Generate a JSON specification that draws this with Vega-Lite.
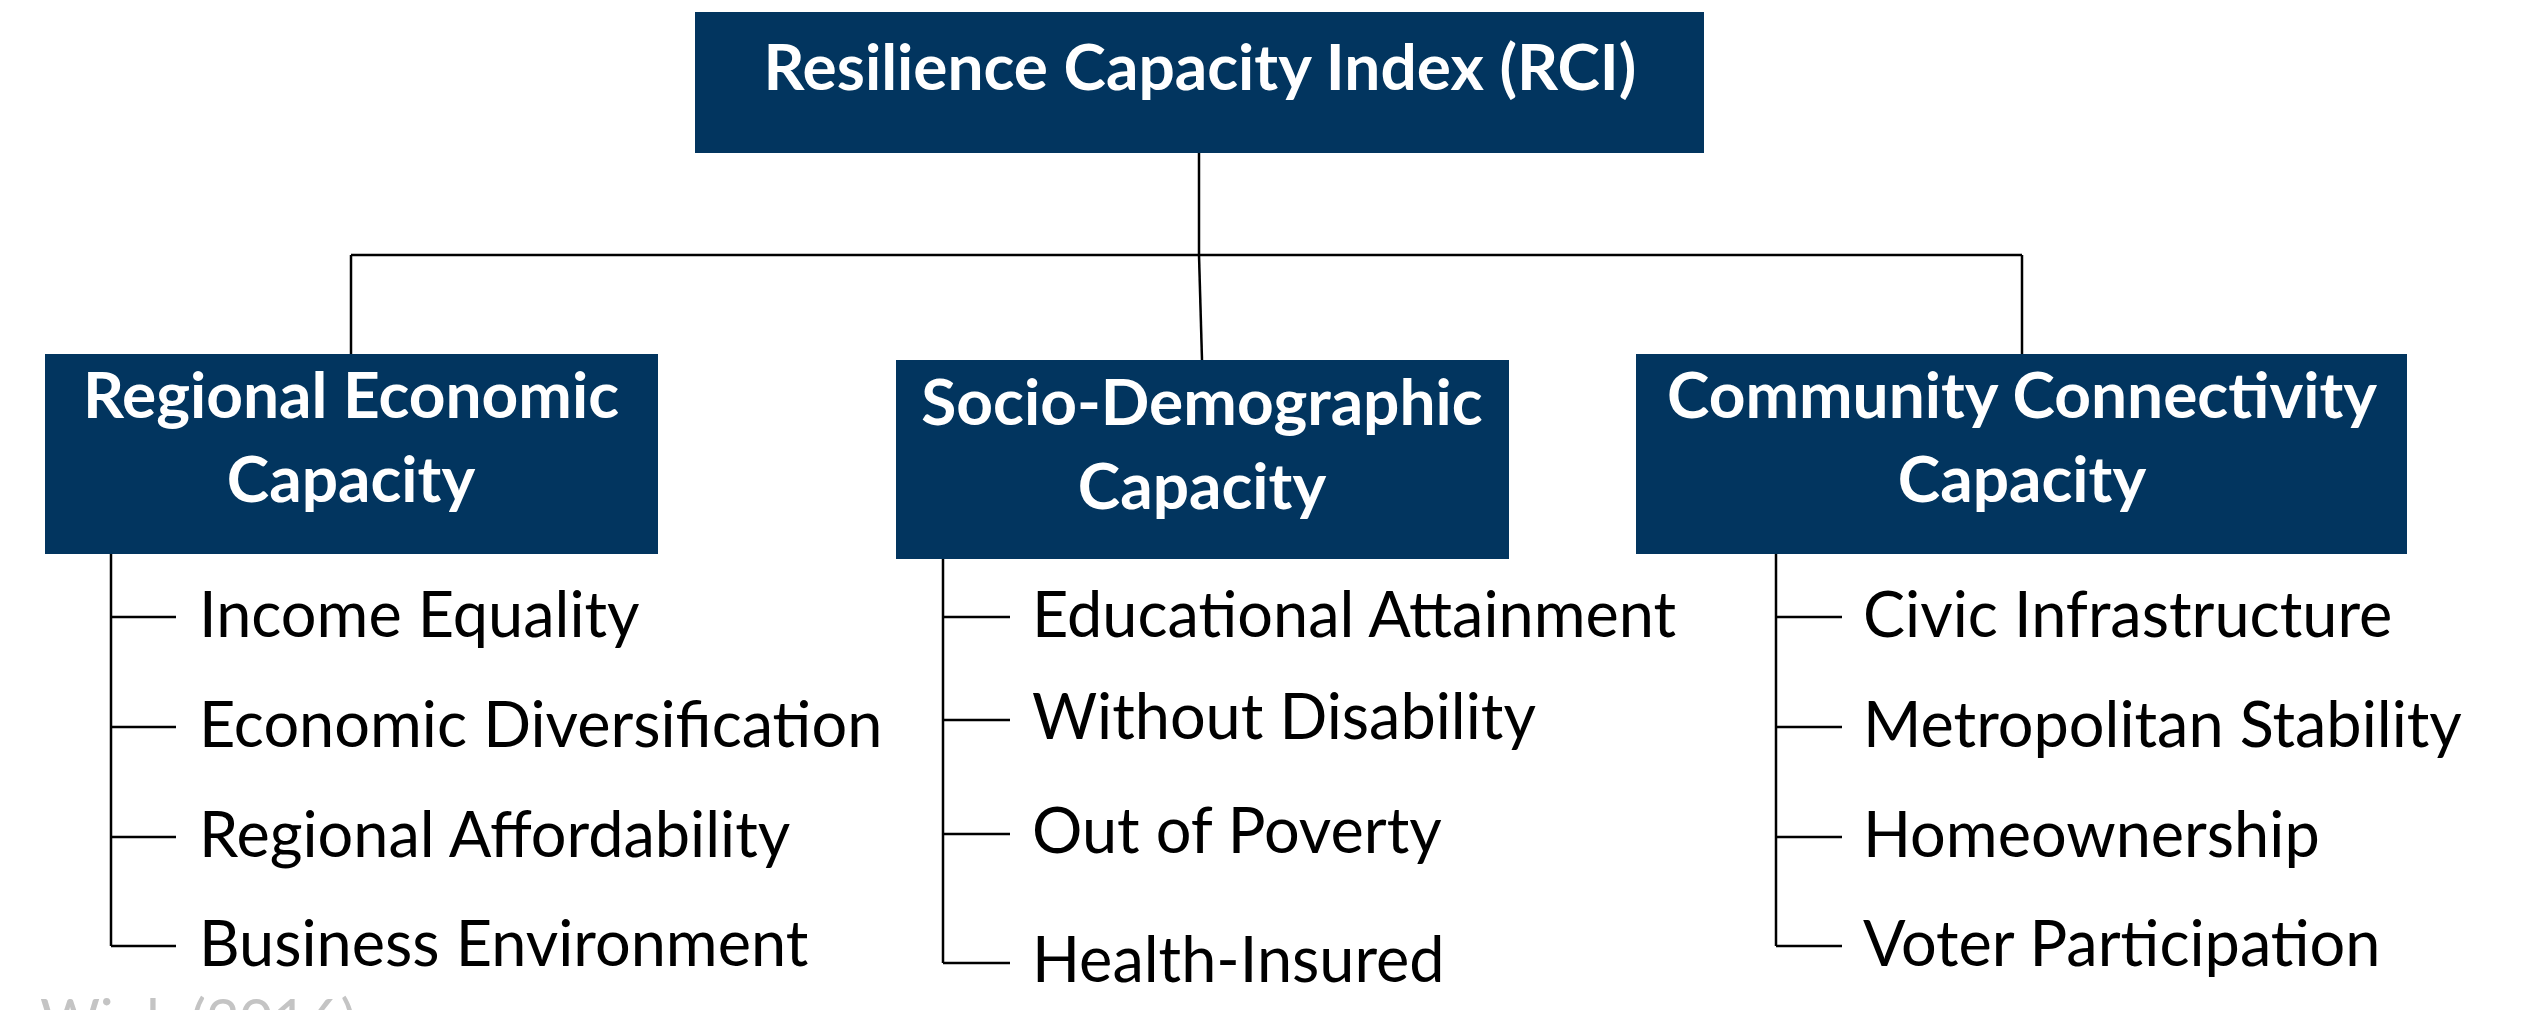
{
  "$schema": "https://vega.github.io/schema/vega-lite/v6.json",
  "width": 2545,
  "height": 1010,
  "padding": 0,
  "autosize": "none",
  "background": "white",
  "config": {"view": {"stroke": null}},
  "datasets": {
    "boxes": [
      {"name": "Resilience Capacity Index (RCI)", "x": 695, "x2": 1704, "y": 12, "y2": 153},
      {"name": "Regional Economic Capacity", "x": 45, "x2": 658, "y": 354, "y2": 554},
      {"name": "Socio-Demographic Capacity", "x": 896, "x2": 1509, "y": 360, "y2": 559},
      {"name": "Community Connectivity Capacity", "x": 1636, "x2": 2407, "y": 354, "y2": 554}
    ],
    "links": [
      {"x": 1199, "y": 153, "x2": 1199, "y2": 255},
      {"x": 1199, "y": 255, "x2": 1202, "y2": 360},
      {"x": 351, "y": 255, "x2": 2022, "y2": 255},
      {"x": 351, "y": 255, "x2": 351, "y2": 354},
      {"x": 2022, "y": 255, "x2": 2022, "y2": 354},
      {"x": 111, "y": 554, "x2": 111, "y2": 946},
      {"x": 111, "y": 617, "x2": 176, "y2": 617},
      {"x": 111, "y": 727, "x2": 176, "y2": 727},
      {"x": 111, "y": 837, "x2": 176, "y2": 837},
      {"x": 111, "y": 946, "x2": 176, "y2": 946},
      {"x": 943, "y": 559, "x2": 943, "y2": 963},
      {"x": 943, "y": 617, "x2": 1010, "y2": 617},
      {"x": 943, "y": 720, "x2": 1010, "y2": 720},
      {"x": 943, "y": 834, "x2": 1010, "y2": 834},
      {"x": 943, "y": 963, "x2": 1010, "y2": 963},
      {"x": 1776, "y": 554, "x2": 1776, "y2": 946},
      {"x": 1776, "y": 617, "x2": 1842, "y2": 617},
      {"x": 1776, "y": 727, "x2": 1842, "y2": 727},
      {"x": 1776, "y": 837, "x2": 1842, "y2": 837},
      {"x": 1776, "y": 946, "x2": 1842, "y2": 946}
    ],
    "heads": [
      {"label": "Resilience Capacity Index (RCI)", "x": 1200, "y": 71},
      {"label": "Regional Economic", "x": 351, "y": 399},
      {"label": "Capacity", "x": 351, "y": 483},
      {"label": "Socio-Demographic", "x": 1202, "y": 406},
      {"label": "Capacity", "x": 1202, "y": 490},
      {"label": "Community Connectivity", "x": 2022, "y": 399},
      {"label": "Capacity", "x": 2022, "y": 483}
    ],
    "items": [
      {"label": "Income Equality", "x": 199, "y": 618},
      {"label": "Economic Diversification", "x": 199, "y": 728},
      {"label": "Regional Affordability", "x": 199, "y": 838},
      {"label": "Business Environment", "x": 199, "y": 947},
      {"label": "Educational Attainment", "x": 1032, "y": 618},
      {"label": "Without Disability", "x": 1032, "y": 720},
      {"label": "Out of Poverty", "x": 1032, "y": 834},
      {"label": "Health-Insured", "x": 1032, "y": 963},
      {"label": "Civic Infrastructure", "x": 1863, "y": 618},
      {"label": "Metropolitan Stability", "x": 1863, "y": 728},
      {"label": "Homeownership", "x": 1863, "y": 838},
      {"label": "Voter Participation", "x": 1863, "y": 947}
    ],
    "source": [
      {"label": "Source: Wink (2016)", "x": 356, "y": 1024}
    ]
  },
  "layer": [
    {
      "data": {"name": "boxes"},
      "mark": {"type": "rect", "fill": "#02355f"},
      "encoding": {
        "x": {"field": "x", "type": "quantitative", "scale": {"domain": [0, 2545], "nice": false, "zero": false}, "axis": null},
        "x2": {"field": "x2"},
        "y": {"field": "y", "type": "quantitative", "scale": {"domain": [0, 1010], "nice": false, "zero": false, "reverse": true}, "axis": null},
        "y2": {"field": "y2"}
      }
    },
    {
      "data": {"name": "links"},
      "mark": {"type": "rule", "stroke": "black", "strokeWidth": 2.5},
      "encoding": {
        "x": {"field": "x", "type": "quantitative"},
        "x2": {"field": "x2"},
        "y": {"field": "y", "type": "quantitative"},
        "y2": {"field": "y2"}
      }
    },
    {
      "data": {"name": "heads"},
      "mark": {"type": "text", "font": "Lato", "fontWeight": "bold", "fontSize": 64, "fill": "white", "align": "center", "baseline": "middle"},
      "encoding": {
        "x": {"field": "x", "type": "quantitative"},
        "y": {"field": "y", "type": "quantitative"},
        "text": {"field": "label"}
      }
    },
    {
      "data": {"name": "items"},
      "mark": {"type": "text", "font": "Lato", "fontSize": 63, "fill": "black", "align": "left", "baseline": "middle"},
      "encoding": {
        "x": {"field": "x", "type": "quantitative"},
        "y": {"field": "y", "type": "quantitative"},
        "text": {"field": "label"}
      }
    },
    {
      "data": {"name": "source"},
      "mark": {"type": "text", "font": "Lato", "fontSize": 58, "fill": "#c4c4c4", "align": "right", "baseline": "middle", "clip": true},
      "encoding": {
        "x": {"field": "x", "type": "quantitative"},
        "y": {"field": "y", "type": "quantitative"},
        "text": {"field": "label"}
      }
    }
  ]
}
